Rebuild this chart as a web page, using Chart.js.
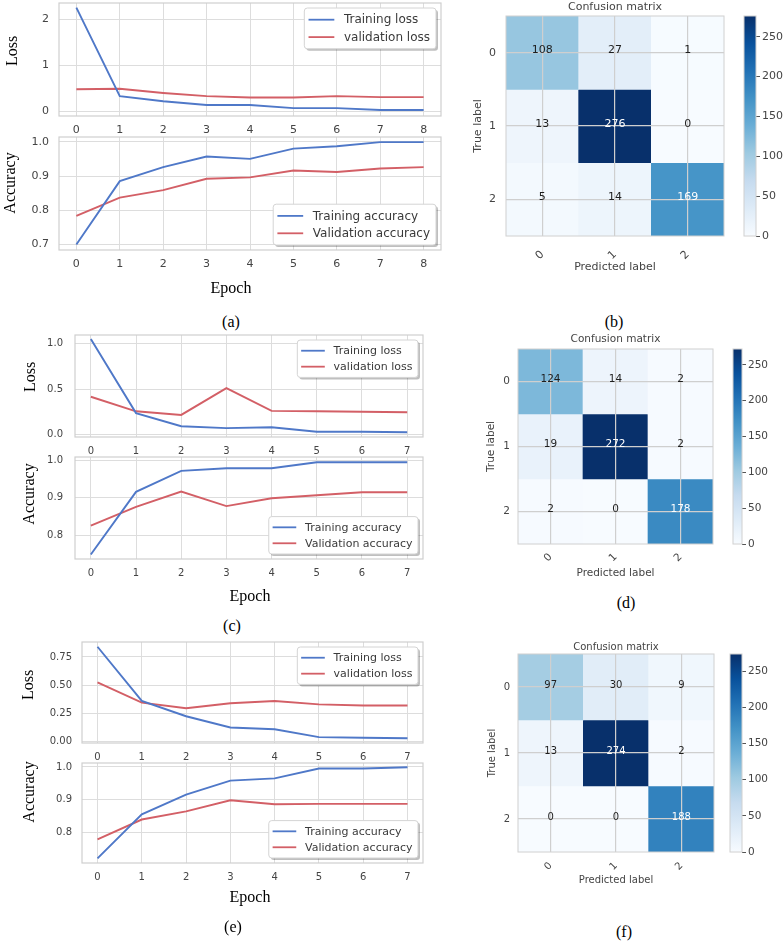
<!DOCTYPE html>
<html lang="en">
<head>
<meta charset="UTF-8">
<title>Training curves and confusion matrices</title>
<script src="https://cdn.jsdelivr.net/npm/chart.js"></script>
<style>
  body { margin: 0; background: #fff; }
  #fig { position: relative; width: 784px; height: 941px; overflow: hidden; background: #fff; }
  #fig canvas { position: absolute; }
  .lbl { position: absolute; font-family: "Liberation Serif", "Times New Roman", serif; font-size: 16px; color: #000;
         white-space: nowrap; transform: translate(-50%, -50%); z-index: 5; }
  .rot { transform: translate(-50%, -50%) rotate(-90deg); }
</style>
</head>
<body>
<div id="fig"></div>

<script>
// ---- data ----
const epochsA = [0, 1, 2, 3, 4, 5, 6, 7, 8];
const trainLossA = [2.25, 0.33, 0.22, 0.14, 0.14, 0.07, 0.07, 0.03, 0.03];
const valLossA = [0.48, 0.49, 0.40, 0.33, 0.30, 0.30, 0.33, 0.31, 0.31];
const trainAccA = [0.700, 0.885, 0.926, 0.957, 0.950, 0.980, 0.987, 0.999, 0.999];
const valAccA = [0.784, 0.837, 0.859, 0.892, 0.896, 0.916, 0.912, 0.922, 0.926];

const epochsC = [0, 1, 2, 3, 4, 5, 6, 7];
const trainLossC = [1.05, 0.235, 0.09, 0.07, 0.08, 0.03, 0.03, 0.025];
const valLossC = [0.415, 0.255, 0.215, 0.51, 0.26, 0.255, 0.25, 0.245];
const trainAccC = [0.749, 0.916, 0.972, 0.979, 0.979, 0.995, 0.995, 0.995];
const valAccC = [0.826, 0.876, 0.917, 0.878, 0.899, 0.907, 0.915, 0.915];

const epochsE = [0, 1, 2, 3, 4, 5, 6, 7];
const trainLossE = [0.84, 0.36, 0.225, 0.125, 0.11, 0.04, 0.035, 0.03];
const valLossE = [0.525, 0.345, 0.295, 0.34, 0.36, 0.33, 0.32, 0.32];
const trainAccE = [0.720, 0.855, 0.915, 0.958, 0.965, 0.995, 0.995, 0.999];
const valAccE = [0.778, 0.839, 0.864, 0.898, 0.886, 0.887, 0.887, 0.887];

const lossNames = ['Training loss', 'validation loss'];
const accNames = ['Training accuracy', 'Validation accuracy'];

const lossTicksA = [0, 1, 2];
const lossTickLabelsA = ['0', '1', '2'];
const lossTicksC = [0, 0.5, 1.0];
const lossTickLabelsC = ['0.0', '0.5', '1.0'];
const lossTicksE = [0, 0.25, 0.5, 0.75];
const lossTickLabelsE = ['0.00', '0.25', '0.50', '0.75'];
const accTicksA = [0.7, 0.8, 0.9, 1.0];
const accTickLabelsA = ['0.7', '0.8', '0.9', '1.0'];
const accTicksCE = [0.8, 0.9, 1.0];
const accTickLabelsCE = ['0.8', '0.9', '1.0'];

const classLabels = ['0', '1', '2'];
const cmB = [[108, 27, 1], [13, 276, 0], [5, 14, 169]];
const cmD = [[124, 14, 2], [19, 272, 2], [2, 0, 178]];
const cmF = [[97, 30, 9], [13, 274, 2], [0, 0, 188]];
const colorbarTicks = [0, 50, 100, 150, 200, 250];

// ---- styles ----
const LINE_COLORS = ['#4f78c8', '#d35f66'];
const GRID = '#dddddd';
const CM_GRID = '#cfcfcf';
const TICK = '#444444';
const BLUES = ['#f7fbff', '#deebf7', '#c6dbef', '#9ecae1', '#6baed6', '#4292c6', '#2171b5', '#08519c', '#08306b'];

Chart.defaults.font.family = '"DejaVu Sans", sans-serif';
Chart.defaults.color = TICK;
Chart.defaults.animation = false;
Chart.defaults.responsive = false;
Chart.defaults.devicePixelRatio = 1;
Chart.defaults.plugins.legend.display = false;
Chart.defaults.plugins.tooltip.enabled = false;

const fig = document.getElementById('fig');

function addCanvas(left, top, w, h) {
  const c = document.createElement('canvas');
  c.width = Math.round(w);
  c.height = Math.round(h);
  c.style.left = Math.round(left) + 'px';
  c.style.top = Math.round(top) + 'px';
  fig.appendChild(c);
  return c;
}

function hexRgb(h) {
  return [1, 3, 5].map(i => parseInt(h.slice(i, i + 2), 16));
}

function blues(t) {
  t = Math.min(1, Math.max(0, t));
  const n = BLUES.length - 1;
  const p = t * n;
  const i = Math.min(Math.floor(p), n - 1);
  const f = p - i;
  const a = hexRgb(BLUES[i]), b = hexRgb(BLUES[i + 1]);
  const c = a.map((v, k) => Math.round(v + (b[k] - v) * f));
  return `rgb(${c[0]},${c[1]},${c[2]})`;
}

// box around the plot area
const framePlugin = {
  id: 'frame',
  afterDraw(chart, args, o) {
    const { ctx, chartArea: a } = chart;
    ctx.save();
    ctx.strokeStyle = o.color || '#cccccc';
    ctx.lineWidth = o.width || 1;
    ctx.strokeRect(a.left, a.top, a.right - a.left, a.bottom - a.top);
    ctx.restore();
  }
};

// matplotlib-like legend inside the axes, with a shadow
const boxLegend = {
  id: 'boxLegend',
  afterDraw(chart, args, o) {
    const { ctx, chartArea: a } = chart;
    const fs = o.fontSize;
    const items = chart.data.datasets;
    ctx.save();
    ctx.font = fs + 'px "DejaVu Sans"';
    const tw = Math.max(...items.map(d => ctx.measureText(d.label).width));
    const padX = 0.35 * fs, lineLen = 2.15 * fs, gap = 0.8 * fs, padR = 0.5 * fs;
    const rowH = 1.45 * fs, padY = 0.25 * fs;
    const w = padX + lineLen + gap + tw + padR;
    const h = 2 * padY + items.length * rowH;
    const x = a.right - 5 - w;
    const y = o.corner === 'upper' ? a.top + 5 : a.bottom - 5 - h;

    ctx.fillStyle = 'rgba(0,0,0,0.25)';
    ctx.beginPath(); ctx.roundRect(x + 2, y + 2, w, h, 3); ctx.fill();
    ctx.fillStyle = '#ffffff';
    ctx.strokeStyle = '#d4d4d4';
    ctx.lineWidth = 1;
    ctx.beginPath(); ctx.roundRect(x, y, w, h, 3); ctx.fill(); ctx.stroke();

    ctx.textAlign = 'left';
    ctx.textBaseline = 'middle';
    items.forEach((d, i) => {
      const cy = y + padY + rowH * (i + 0.5);
      ctx.strokeStyle = d.borderColor;
      ctx.lineWidth = 1.8;
      ctx.beginPath();
      ctx.moveTo(x + padX, cy);
      ctx.lineTo(x + padX + lineLen, cy);
      ctx.stroke();
      ctx.fillStyle = '#3a3a3a';
      ctx.fillText(d.label, x + padX + lineLen + gap, cy + 0.5);
    });
    ctx.restore();
  }
};

function makeCellText(m, fs) {
  const mx = Math.max(...m.flat());
  return {
    id: 'cellText',
    afterDraw(chart) {
      const { ctx, scales: { x, y } } = chart;
      ctx.save();
      ctx.font = fs + 'px "DejaVu Sans"';
      ctx.textAlign = 'center';
      ctx.textBaseline = 'alphabetic';
      m.forEach((row, r) => row.forEach((v, c) => {
        ctx.fillStyle = v > mx / 2 ? '#ffffff' : '#1e1e1e';
        ctx.fillText(String(v), x.getPixelForValue(c), y.getPixelForValue(r + 0.5) + 0.5);
      }));
      ctx.restore();
    }
  };
}

// g = plot area in page pixels
function lineChart(g, xs, series, names, yTicks, yLabels, yMin, yMax, fs, legendFs, corner, yPad) {
  const left = 0, top = g.t - 2;
  const w = g.r + 3, h = g.b + 26 - top;
  const canvas = addCanvas(left, top, w, h);
  const span = xs[xs.length - 1] - xs[0];
  return new Chart(canvas, {
    type: 'line',
    data: {
      datasets: series.map((ys, k) => ({
        label: names[k],
        data: xs.map((x, i) => ({ x: x, y: ys[i] })),
        borderColor: LINE_COLORS[k],
        borderWidth: 1.9,
        pointRadius: 0,
        tension: 0,
        fill: false
      }))
    },
    options: {
      layout: { padding: { top: 2, right: 3, left: 0, bottom: 0 } },
      scales: {
        x: {
          type: 'linear',
          min: xs[0] - 0.05 * span,
          max: xs[xs.length - 1] + 0.05 * span,
          afterBuildTicks: s => { s.ticks = xs.map(v => ({ value: v })); },
          afterFit: s => { s.height = 26; s.paddingLeft = 0; s.paddingRight = 0; },
          grid: { color: GRID, lineWidth: 1, drawTicks: false },
          border: { display: false },
          ticks: { padding: 8, font: { size: fs }, color: TICK, callback: v => String(v) }
        },
        y: {
          min: yMin,
          max: yMax,
          afterBuildTicks: s => { s.ticks = yTicks.map(v => ({ value: v })); },
          afterFit: s => { s.width = g.l - left; s.paddingTop = 0; s.paddingBottom = 0; },
          grid: { color: GRID, lineWidth: 1, drawTicks: false },
          border: { display: false },
          ticks: { padding: yPad, font: { size: fs }, color: TICK, callback: (v, i) => yLabels[i] }
        }
      },
      plugins: {
        frame: { color: '#cfcfcf', width: 1.2 },
        boxLegend: { corner: corner, fontSize: legendFs }
      }
    },
    plugins: [framePlugin, boxLegend]
  });
}

function cmChart(m, g, fs) {
  const lh = fs * 1.2;
  const left = g.yTitleX - 8, top = g.titleY - 8;
  const right = g.r + 2, bottom = g.xTitleY + 8;
  const canvas = addCanvas(left, top, right - left, bottom - top);
  const mx = Math.max(...m.flat());
  const tPad = 8 - lh / 2;
  return new Chart(canvas, {
    type: 'bar',
    data: {
      labels: classLabels,
      datasets: m.map((row, r) => ({
        data: row.map(() => [r, r + 1]),
        backgroundColor: row.map(v => blues(v / mx)),
        grouped: false,
        barPercentage: 1,
        categoryPercentage: 1,
        borderWidth: 0
      }))
    },
    options: {
      layout: { padding: { left: 0, top: 0, right: 2, bottom: 0 } },
      scales: {
        x: {
          grid: { z: 1, offset: false, color: CM_GRID, lineWidth: 1.2, drawTicks: false },
          border: { display: false },
          ticks: { minRotation: 45, maxRotation: 45, padding: g.xTickPad, font: { size: fs }, color: TICK },
          title: { display: true, text: 'Predicted label', font: { size: fs }, color: TICK, padding: { top: 0, bottom: tPad } },
          afterFit: s => { s.height = bottom - g.b; s.paddingLeft = 0; s.paddingRight = 0; }
        },
        y: {
          type: 'linear',
          min: 0,
          max: classLabels.length,
          reverse: true,
          afterBuildTicks: s => { s.ticks = classLabels.map((_, i) => ({ value: i + 0.5 })); },
          grid: { z: 1, color: CM_GRID, lineWidth: 1.2, drawTicks: false },
          border: { display: false },
          ticks: { padding: g.yTickPad, font: { size: fs }, color: TICK, callback: (v, i) => classLabels[i] },
          title: { display: true, text: 'True label', font: { size: fs }, color: TICK, padding: { top: tPad, bottom: 0 } },
          afterFit: s => { s.width = g.l - left; s.paddingTop = 0; s.paddingBottom = 0; }
        }
      },
      plugins: {
        title: {
          display: true,
          text: 'Confusion matrix',
          fullSize: false,
          color: TICK,
          font: { size: fs, weight: 'normal' },
          padding: { top: tPad, bottom: (g.t - top) - lh - tPad }
        },
        frame: { color: '#d0d0d0', width: 1 }
      }
    },
    plugins: [framePlugin, makeCellText(m, fs)]
  });
}

function colorbar(m, g, fs) {
  const mx = Math.max(...m.flat());
  const left = g.l - 2, top = g.t - 8;
  const w = 784 - left, h = g.b - g.t + 16;
  const canvas = addCanvas(left, top, w, h);
  return new Chart(canvas, {
    type: 'bar',
    data: {
      labels: [''],
      datasets: [{
        data: [[0, mx]],
        backgroundColor: c => {
          const a = c.chart.chartArea;
          if (!a) return BLUES[0];
          const gr = c.chart.ctx.createLinearGradient(0, a.bottom, 0, a.top);
          BLUES.forEach((col, i) => gr.addColorStop(i / (BLUES.length - 1), col));
          return gr;
        },
        barPercentage: 1,
        categoryPercentage: 1,
        borderWidth: 0
      }]
    },
    options: {
      layout: { padding: { left: 2, top: 8, bottom: 8, right: 0 } },
      scales: {
        x: { display: false },
        y: {
          position: 'right',
          min: 0,
          max: mx,
          afterBuildTicks: s => { s.ticks = colorbarTicks.filter(v => v <= mx).map(v => ({ value: v })); },
          afterFit: s => { s.width = 784 - g.r; s.paddingTop = 0; s.paddingBottom = 0; },
          grid: { drawOnChartArea: false, drawTicks: true, tickLength: 4, color: '#555555', lineWidth: 1 },
          border: { display: false },
          ticks: { padding: 2, font: { size: fs }, color: TICK }
        }
      },
      plugins: { frame: { color: '#d0d0d0', width: 1 } }
    },
    plugins: [framePlugin]
  });
}

// ---- (a) ----
lineChart({ l: 59, t: 3, r: 441, b: 116 }, epochsA, [trainLossA, valLossA], lossNames,
  lossTicksA, lossTickLabelsA, -0.1, 2.35, 11, 12, 'upper', 10);
lineChart({ l: 59, t: 137, r: 441, b: 250 }, epochsA, [trainAccA, valAccA], accNames,
  accTicksA, accTickLabelsA, 0.684, 1.014, 11, 12, 'lower', 10);

// ---- (c) ----
lineChart({ l: 75, t: 335, r: 423, b: 437 }, epochsC, [trainLossC, valLossC], lossNames,
  lossTicksC, lossTickLabelsC, -0.028, 1.095, 10, 11, 'upper', 12);
lineChart({ l: 75, t: 457, r: 423, b: 559 }, epochsC, [trainAccC, valAccC], accNames,
  accTicksCE, accTickLabelsCE, 0.737, 1.009, 10, 11, 'lower', 12);

// ---- (e) ----
lineChart({ l: 82, t: 642, r: 423, b: 743 }, epochsE, [trainLossE, valLossE], lossNames,
  lossTicksE, lossTickLabelsE, -0.012, 0.882, 10, 11, 'upper', 10);
lineChart({ l: 82, t: 763, r: 423, b: 863 }, epochsE, [trainAccE, valAccE], accNames,
  accTicksCE, accTickLabelsCE, 0.706, 1.012, 10, 11, 'lower', 10);

// ---- (b) (d) (f) ----
cmChart(cmB, { l: 506, t: 16, r: 724, b: 236, titleY: 7, yTitleX: 478, xTitleY: 267, yTickPad: 10, xTickPad: 12 }, 11);
colorbar(cmB, { l: 744, t: 16, r: 756, b: 236 }, 11);
cmChart(cmD, { l: 518, t: 349, r: 713, b: 544, titleY: 339, yTitleX: 491, xTitleY: 573, yTickPad: 8, xTickPad: 7 }, 10.5);
colorbar(cmD, { l: 733, t: 349, r: 742, b: 544 }, 10.5);
cmChart(cmF, { l: 518, t: 654, r: 714, b: 852, titleY: 647, yTitleX: 492, xTitleY: 880, yTickPad: 8, xTickPad: 8 }, 10);
colorbar(cmF, { l: 730, t: 654, r: 742, b: 852 }, 10.5);

// ---- serif labels and captions ----
const labels = [
  ['Loss', 12, 51, true], ['Accuracy', 10, 183, true], ['Epoch', 231, 288], ['(a)', 231, 322],
  ['(b)', 614, 322],
  ['Loss', 30, 377, true], ['Accuracy', 29, 494, true], ['Epoch', 250, 596], ['(c)', 232, 626],
  ['(d)', 626, 603],
  ['Loss', 28, 685, true], ['Accuracy', 29, 792, true], ['Epoch', 250, 897], ['(e)', 233, 927],
  ['(f)', 624, 932]
];
labels.forEach(([text, x, y, rot]) => {
  const d = document.createElement('div');
  d.className = rot ? 'lbl rot' : 'lbl';
  d.textContent = text;
  d.style.left = x + 'px';
  d.style.top = y + 'px';
  fig.appendChild(d);
});
</script>
</body>
</html>
